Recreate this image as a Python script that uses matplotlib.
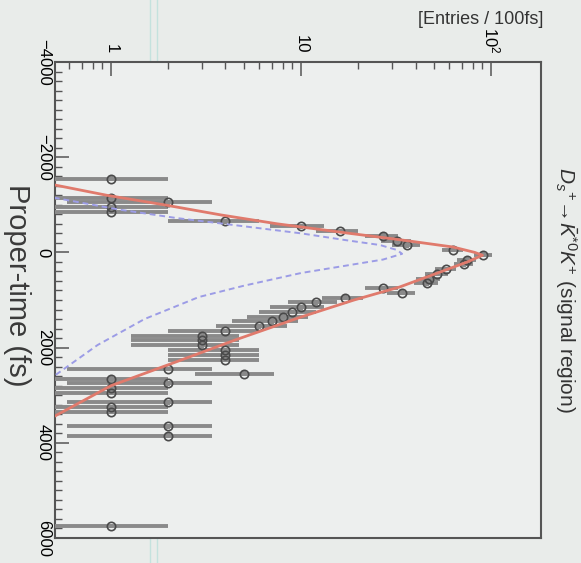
import numpy as np
import matplotlib
matplotlib.use("Agg")
import matplotlib.pyplot as plt
from matplotlib.ticker import FixedLocator, FixedFormatter, LogLocator, MultipleLocator, NullFormatter
from matplotlib.lines import Line2D

plt.rcParams['font.family'] = ['Liberation Sans', 'DejaVu Sans']
plt.rcParams['mathtext.fontset'] = 'custom'
plt.rcParams['mathtext.rm'] = 'Liberation Sans'
plt.rcParams['mathtext.it'] = 'Liberation Sans:italic'

# data: proper-time bin centres (fs) and entries per 100 fs
time_fs = [-1550, -1150, -1050, -950, -850, -650, -550, -450, -350, -250,
           -150, -50, 50, 150, 250, 350, 450, 550, 650, 750,
           850, 950, 1050, 1150, 1250, 1350, 1450, 1550, 1650, 1750,
           1850, 1950, 2050, 2150, 2250, 2450, 2550, 2650, 2750, 2850,
           2950, 3150, 3250, 3350, 3650, 3850, 5750]
entries = [1, 1, 2, 1, 1, 4, 10, 16, 27, 32,
           36, 63, 91, 75, 72, 58, 52, 47, 46, 27,
           34, 17, 12, 10, 9, 8, 7, 6, 4, 3,
           3, 3, 4, 4, 4, 2, 5, 1, 2, 1,
           1, 2, 1, 1, 2, 2, 1]

# total fit (red)
fit_t = [-1420, -1200, -1000, -786, -600, -400, -260, -113, 0, 60,
         200, 400, 727, 1000, 1357, 1840, 2300, 2800, 3450]
fit_v = [0.5, 0.95, 1.9, 3.8, 7.5, 18, 34, 63, 82, 90,
         75, 55, 33, 19, 10, 4.5, 2.2, 1.0, 0.5]

# second component (blue dashed)
comp_t = [-1150, -900, -723, -576, -400, -260, -155, -50, 30, 150,
          433, 700, 937, 1400, 1945, 2600]
comp_v = [0.5, 1.1, 2.2, 4.4, 10, 17, 26, 32, 34, 27,
          10, 5, 2.9, 1.5, 0.85, 0.5]

t_ticks = [-4000, -2000, 0, 2000, 4000, 6000]
n_ticks = [1, 10, 100]
n_labels = ['1', '10', '$10^{2}$']

bg = '#e9ecea'
fig = plt.figure(figsize=(5.81, 5.63), dpi=100, facecolor=bg)
ax = fig.add_axes([55 / 581, 1 - 538 / 563, (541 - 55) / 581, (538 - 62) / 563])
ax.set_facecolor('#edefee')

n = np.array(entries, dtype=float)
err = np.sqrt(n)
ax.errorbar(n, time_fs, xerr=err, yerr=50, fmt='o', ms=6, mfc='none',
            mec='#4a4a4a', mew=1.2, ecolor='#8a8a8a', elinewidth=2.8,
            capsize=0, zorder=3)
ax.plot(comp_v, comp_t, color='#9c9ce6', lw=1.4, ls=(0, (3, 2)), zorder=4)
ax.plot(fit_v, fit_t, color='#e07a6c', lw=2.0, zorder=5)

ax.set_xscale('log')
ax.set_xlim(0.507, 183)
ax.set_ylim(6000, -4000)

ax.xaxis.tick_top()
ax.xaxis.set_major_locator(FixedLocator(n_ticks))
ax.xaxis.set_major_formatter(FixedFormatter(n_labels))
ax.xaxis.set_minor_locator(LogLocator(base=10, subs=np.arange(2, 10)))
ax.xaxis.set_minor_formatter(NullFormatter())
ax.yaxis.set_major_locator(FixedLocator(t_ticks))
ax.yaxis.set_minor_locator(MultipleLocator(200))

ax.tick_params(axis='x', which='both', direction='in', top=True, bottom=False,
               labelrotation=-90, labelsize=12, color='#555555', pad=6)
ax.tick_params(axis='y', which='both', direction='in', left=True, right=False,
               labelrotation=-90, labelsize=12, color='#555555', pad=3)
ax.tick_params(which='major', length=10, width=1.1)
ax.tick_params(which='minor', length=5, width=1.0)
for lab in ax.get_yticklabels():
    lab.set_verticalalignment('center')
for sp in ax.spines.values():
    sp.set_color('#555555')
    sp.set_linewidth(1.5)

fig.text(17 / 581, 1 - 285 / 563, 'Proper-time (fs)', rotation=-90,
         ha='center', va='center', fontsize=21, color='#3a3a3a')
fig.text(566 / 581, 1 - 290 / 563,
         r'$D_s{}^{+}\!\rightarrow\!\bar{K}^{*0}K^{+}$ (signal region)',
         rotation=-90, ha='center', va='center', fontsize=15, color='#333333')
fig.text(543 / 581, 1 - 20 / 563, '[Entries / 100fs]', ha='right',
         va='center', fontsize=13, color='#333333')

# faint scan line crossing the page
for xp in (150, 157):
    fig.add_artist(Line2D([xp / 581, xp / 581], [0, 1], color='#c4e2de',
                          lw=1.0, transform=fig.transFigure, zorder=0))

fig.savefig('out.png', dpi=100, facecolor=bg)
